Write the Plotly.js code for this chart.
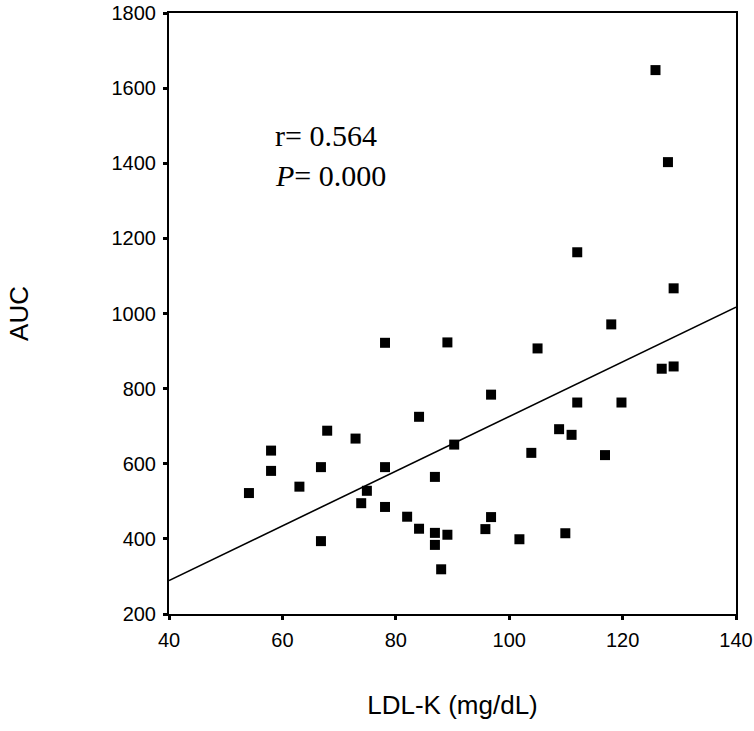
<!DOCTYPE html>
<html>
<head>
<meta charset="utf-8">
<script src="https://cdn.plot.ly/plotly-3.0.1.min.js"></script>
<style>html,body{margin:0;padding:0;background:#fff;}#chart{width:754px;height:731px;}</style>
</head>
<body>
<div id="chart"></div>
<script>
// LDL-K (mg/dL) values
const ldl = [54.1, 58, 58, 63, 66.8, 67.9, 66.8, 72.9, 73.9, 74.9, 78.1, 78.1, 82, 84.1, 84.1,
  86.9, 86.9, 86.9, 89.1, 88, 90.3,
  125.8, 128, 112, 129, 118, 89.1, 105, 126.9, 129, 96.8, 112, 119.8, 108.8, 111,
  78.1, 103.9, 116.9, 96.8, 95.8, 101.8, 109.9];
// AUC values
const auc = [522, 635, 581, 539, 591, 688, 394, 667, 495, 528, 591, 485, 459, 725, 427,
  565, 416, 384, 411, 319, 651,
  1648, 1403, 1163, 1067, 971, 923, 907, 853, 859, 784, 763, 763, 692, 677,
  922, 629, 623, 458, 426, 399, 415];
// fit line end points
const fitX = [40, 140];
const fitY = [289, 1017];
const xTicks = [40, 60, 80, 100, 120, 140];
const yTicks = [200, 400, 600, 800, 1000, 1200, 1400, 1600, 1800];

const traces = [
  {x: ldl, y: auc, type: 'scatter', mode: 'markers',
   marker: {symbol: 'square', size: 10, color: '#000', line: {width: 0}}, hoverinfo: 'x+y'},
  {x: fitX, y: fitY, type: 'scatter', mode: 'lines',
   line: {color: '#000', width: 1.6}, hoverinfo: 'skip'}
];

const axisCommon = {
  showgrid: false, zeroline: false, showline: true, linecolor: '#000', linewidth: 2,
  mirror: true, ticks: 'outside', ticklen: 4, tickwidth: 3, tickcolor: '#000',
  tickfont: {family: 'Arial, Liberation Sans, sans-serif', size: 20, color: '#000'}
};

const layout = {
  width: 754, height: 731,
  margin: {l: 169, r: 18, t: 13, b: 117},
  paper_bgcolor: '#fff', plot_bgcolor: '#fff',
  showlegend: false,
  xaxis: Object.assign({}, axisCommon, {
    range: [40, 140], tickvals: xTicks, ticktext: xTicks.map(String),
    ticklabelstandoff: 3,
    title: {text: 'LDL-K (mg/dL)', font: {family: 'Arial, Liberation Sans, sans-serif', size: 26, color: '#000'}, standoff: 46}
  }),
  yaxis: Object.assign({}, axisCommon, {
    range: [200, 1800], tickvals: yTicks, ticktext: yTicks.map(String),
    ticklabelstandoff: 3,
    title: {text: 'AUC', font: {family: 'Arial, Liberation Sans, sans-serif', size: 26, color: '#000'}, standoff: 75}
  }),
  annotations: [
    {xref: 'paper', yref: 'paper', x: 0.1834, y: 0.796, xanchor: 'left', yanchor: 'middle',
     text: 'r= 0.564', showarrow: false,
     font: {family: 'Liberation Serif, Times New Roman, serif', size: 30, color: '#000'}},
    {xref: 'paper', yref: 'paper', x: 0.1834, y: 0.730, xanchor: 'left', yanchor: 'middle',
     text: '<i>P</i>= 0.000', showarrow: false,
     font: {family: 'Liberation Serif, Times New Roman, serif', size: 30, color: '#000'}}
  ]
};

Plotly.newPlot('chart', traces, layout, {displayModeBar: false, staticPlot: true});
</script>
</body>
</html>
